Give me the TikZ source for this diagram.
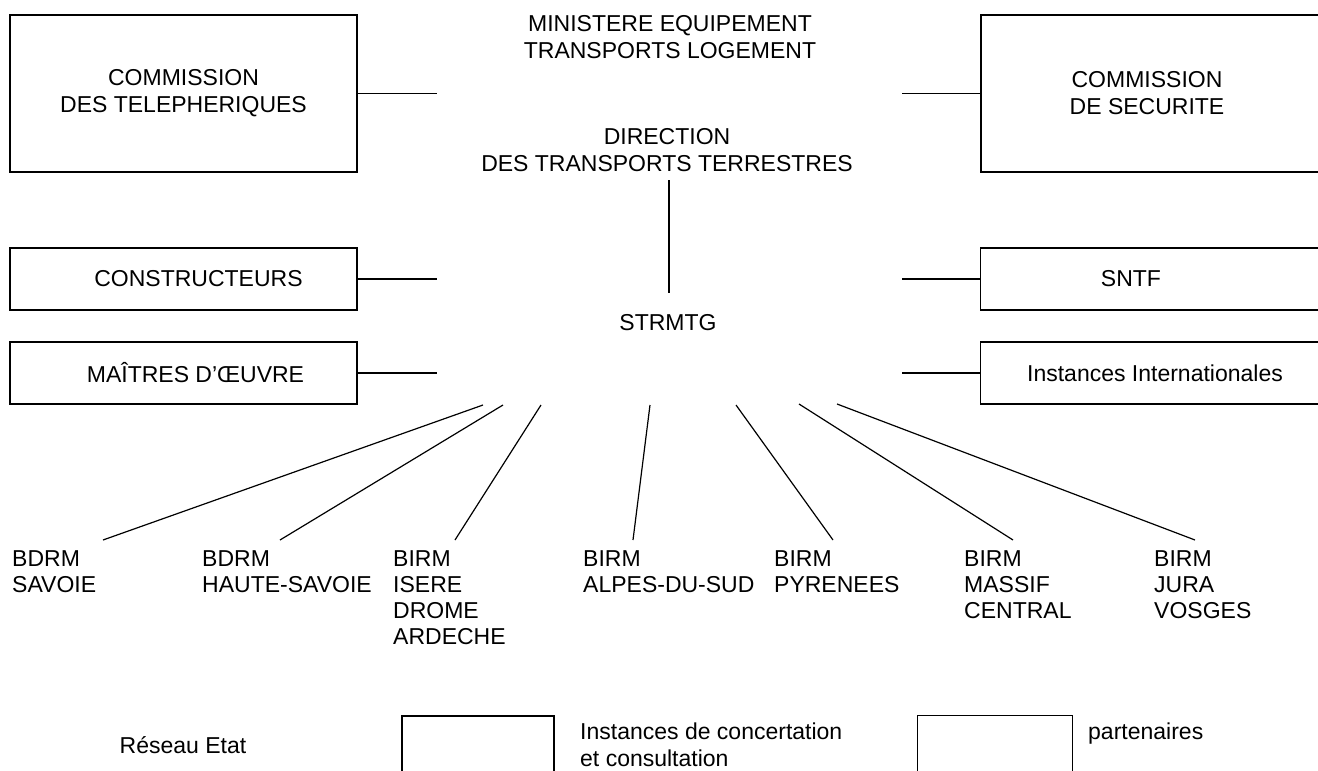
\documentclass[tikz,border=0pt]{standalone}
\usepackage{fontspec}
\setmainfont{Liberation Sans}
\begin{document}
\begin{tikzpicture}[x=1pt,y=-1pt,
  every node/.style={font=\fontsize{23}{27}\selectfont, inner sep=0pt, align=center},
  thickbox/.style={draw, line width=2.4pt, minimum height=157pt},
  thinbox/.style={draw, line width=1.3pt, minimum height=62pt},
  conn/.style={line width=1.2pt},
  lbl/.style={anchor=north west, align=left, font=\fontsize{23}{26}\selectfont}]
\useasboundingbox (0,0) rectangle (1318,771);
\clip (0,0) rectangle (1318,771);

% left boxes
\node[thickbox, minimum width=347pt] (ct) at (183.5,93.5) {COMMISSION\\DES TELEPHERIQUES};
\node[thinbox, minimum width=347pt] (con) at (183.5,279) {\hspace*{30pt}CONSTRUCTEURS};
\node[thinbox, minimum width=347pt] (mai) at (183.5,373) {\hspace*{24pt}MAÎTRES D’ŒUVRE};

% right boxes (run off the right edge)
\node[thickbox, minimum width=380pt, anchor=west] (cs) at (980,93.5) {};
\node (cst) at (1147,93) {COMMISSION\\DE SECURITE};
\node[thinbox, minimum width=380pt, anchor=west] (sntf) at (980,279) {};
\node (sntft) at (1131,279) {SNTF};
\node[thinbox, minimum width=380pt, anchor=west] (inst) at (980,373) {};
\node (instt) at (1155,373) {Instances Internationales};

% centre
\node (min) at (670,37) {MINISTERE EQUIPEMENT\\TRANSPORTS LOGEMENT};
\node (dtt) at (667,150) {DIRECTION\\DES TRANSPORTS TERRESTRES};
\node (strmtg) at (668,323) {STRMTG};

\coordinate (ctR) at (437,93.5);
\coordinate (csL) at (902,93.5);
\coordinate (conR) at (437,279);
\coordinate (sntfL) at (902,279);
\coordinate (maiR) at (437,373);
\coordinate (instL) at (902,373);

\draw[conn] (ct.east) -- (ctR);
\draw[conn] (cs.west) -- (csL);
\draw[conn] (con.east) -- (conR);
\draw[conn] (sntf.west) -- (sntfL);
\draw[conn] (mai.east) -- (maiR);
\draw[conn] (inst.west) -- (instL);
\draw[conn, shorten <=8.5pt, shorten >=22pt] ([xshift=2pt]dtt.south) -- ([xshift=1pt]strmtg.north);

% regional offices
\node[lbl] (l1) at (12,550) {BDRM\\SAVOIE};
\node[lbl] (l2) at (202,550) {BDRM\\HAUTE-SAVOIE};
\node[lbl] (l3) at (393,550) {BIRM\\ISERE\\DROME\\ARDECHE};
\node[lbl] (l4) at (583,550) {BIRM\\ALPES-DU-SUD};
\node[lbl] (l5) at (774,550) {BIRM\\PYRENEES};
\node[lbl] (l6) at (964,550) {BIRM\\MASSIF\\CENTRAL};
\node[lbl] (l7) at (1154,550) {BIRM\\JURA\\VOSGES};

\coordinate (f1) at (483,405); \coordinate (e1) at (103,540);
\coordinate (f2) at (503,405); \coordinate (e2) at (280,540);
\coordinate (f3) at (541,405); \coordinate (e3) at (455,540);
\coordinate (f4) at (650,405); \coordinate (e4) at (633,540);
\coordinate (f5) at (736,405); \coordinate (e5) at (833,540);
\coordinate (f6) at (799,404); \coordinate (e6) at (1013,540);
\coordinate (f7) at (837,404); \coordinate (e7) at (1195,540);
\foreach \i in {1,...,7} { \draw[conn] (f\i) -- (e\i); }

% legend
\node (reseau) at (183,745) {Réseau Etat};
\node[draw, line width=2.4pt, minimum width=152pt, minimum height=100pt, anchor=north west] (lg1) at (401,715) {};
\node[anchor=north west, align=left] (lg1t) at (580,723) {Instances de concertation\\et consultation};
\node[draw, line width=1.3pt, minimum width=155pt, minimum height=100pt, anchor=north west] (lg2) at (917,715) {};
\node[anchor=north west] (lg2t) at (1088,723) {partenaires};
\end{tikzpicture}
\end{document}
